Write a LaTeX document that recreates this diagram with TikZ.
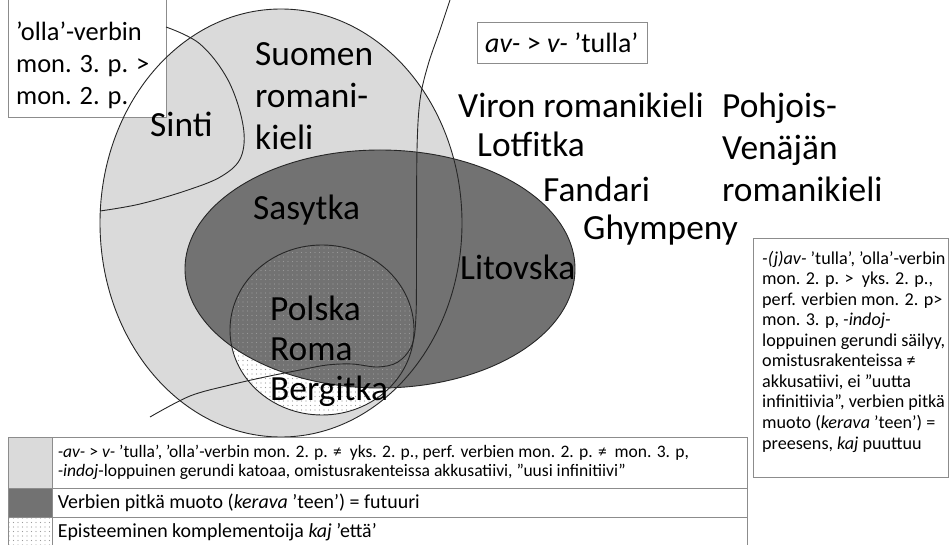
\documentclass[tikz,border=0pt]{standalone}
\usepackage{fontspec}
\setmainfont{Carlito}
\usetikzlibrary{patterns.meta}
\definecolor{lightfill}{HTML}{DADADA}
\definecolor{darkfill}{HTML}{727272}
\definecolor{boxline}{HTML}{8C8C8C}
\definecolor{dotcol}{HTML}{9A9A9A}

\begin{document}
\begin{tikzpicture}[x=1bp, y=-1bp,
    big/.style={font=\fontsize{35.5}{42.5}\selectfont, anchor=base west, inner sep=0pt, align=left},
    note/.style={draw=boxline, fill=white, line width=0.8pt, inner sep=0pt},
    notetext/.style={anchor=base west, inner sep=0pt, align=left},
    outline/.style={draw=black!85, line width=0.9pt},
    dotted area/.style={pattern={Dots[distance=4.5bp, radius=0.55bp]}, pattern color=dotcol},
    swatch/.style={draw=boxline, line width=0.8pt, minimum width=44bp, inner sep=0pt},
    cell/.style={draw=boxline, line width=0.8pt, text width=685bp, inner xsep=5bp, inner ysep=0pt, align=flush left, font=\fontsize{20}{21}\selectfont},
]
\useasboundingbox (0,0) rectangle (950,545);

% areas
\fill[lightfill] (281,223) ellipse [x radius=181, y radius=214];
\fill[white] (322,330) ellipse [x radius=92, y radius=85];
\fill[darkfill] (380,269) ellipse [x radius=195, y radius=119];
\fill[dotted area] (322,330) ellipse [x radius=92, y radius=85];

% box in the corner
\node[note, minimum width=158bp, minimum height=124bp] (ollabox) at (87,55) {};
\node[notetext, font=\fontsize{26.5}{32.5}\selectfont] (ollatext) at (16,105) {’olla’-verbin\\mon. 3. p. >\\mon. 2. p.};

% outlines
\draw[outline] (281,223) ellipse [x radius=181, y radius=214];
\draw[outline] (380,269) ellipse [x radius=195, y radius=119];
\draw[outline] (322,330) ellipse [x radius=92, y radius=85];
\draw[outline] plot[smooth, tension=0.6] coordinates {(166,27) (200,44) (228,80) (243,125) (241,157) (222,176) (188,190) (140,204) (100,211)};
\draw[outline] plot[smooth, tension=0.55] coordinates {(450,0) (440,30) (428,65) (420,100) (417,150) (416.5,250) (416,315) (412,345) (398,362) (378,367) (352,364) (327,365) (300,370) (265,377) (230,385) (190,396) (150,417)};

% language names
\node[big] (suomen) at (255,150) {Suomen\\romani-\\kieli};
\node[big] (sinti) at (150,137) {Sinti};
\node[big] (sasytka) at (253,220) {Sasytka};
\node[big, font=\fontsize{35.5}{40}\selectfont] (polska) at (270,400) {Polska\\Roma\\Bergitka};
\node[big] (litovska) at (460,280) {Litovska};
\node[big] (viron) at (458,118) {Viron romanikieli};
\node[big] (lotfitka) at (477,157) {Lotfitka};
\node[big] (fandari) at (543,202) {Fandari};
\node[big] (ghympeny) at (583,240) {Ghympeny};
\node[big] (pohjois) at (722,202) {Pohjois-\\Venäjän\\romanikieli};

% notes
\node[note, minimum width=170bp, minimum height=41bp] (avbox) at (562,42.5) {};
\node[notetext, font=\fontsize{28}{32}\selectfont] (avtext) at (485,53) {\textit{av-} > \textit{v-} ’tulla’};
\node[note, minimum width=195bp, minimum height=239bp] (jbox) at (850.5,357.5) {};
\node[notetext, font=\fontsize{18.2}{20.6}\selectfont] (jtext) at (762,449) {\textit{-(j)av-} ’tulla’, ’olla’-verbin\\mon. 2. p. >\ \ yks. 2. p.,\\perf. verbien mon. 2. p>\\mon. 3. p, \textit{-indoj-}\\loppuinen gerundi säilyy,\\omistusrakenteissa ≠\\akkusatiivi, ei ”uutta\\infinitiivia”, verbien pitkä\\muoto (\textit{kerava} ’teen’) =\\preesens, \textit{kaj} puuttuu};

% legend
\node[swatch, fill=lightfill, minimum height=51bp] (sw1) at (30,462.5) {};
\node[cell, minimum height=51bp, anchor=west, font=\fontsize{17.6}{18.5}\selectfont] (tx1) at (sw1.east) {\textit{-av-} > \textit{v-} ’tulla’, ’olla’-verbin mon. 2. p. ≠\ \ yks. 2. p., perf. verbien mon. 2. p. ≠\ \ mon. 3. p,\\\textit{-indoj}-loppuinen gerundi katoaa, omistusrakenteissa akkusatiivi, ”uusi infinitiivi”};
\node[swatch, fill=darkfill, minimum height=29bp] (sw2) at (30,502.5) {};
\node[cell, minimum height=29bp, anchor=west] (tx2) at (sw2.east) {Verbien pitkä muoto (\textit{kerava} ’teen’) = futuuri};
\node[swatch, dotted area, minimum height=31bp] (sw3) at (30,532.5) {};
\node[cell, minimum height=31bp, anchor=west] (tx3) at (sw3.east) {Episteeminen komplementoija \textit{kaj} ’että’};
\end{tikzpicture}
\end{document}
